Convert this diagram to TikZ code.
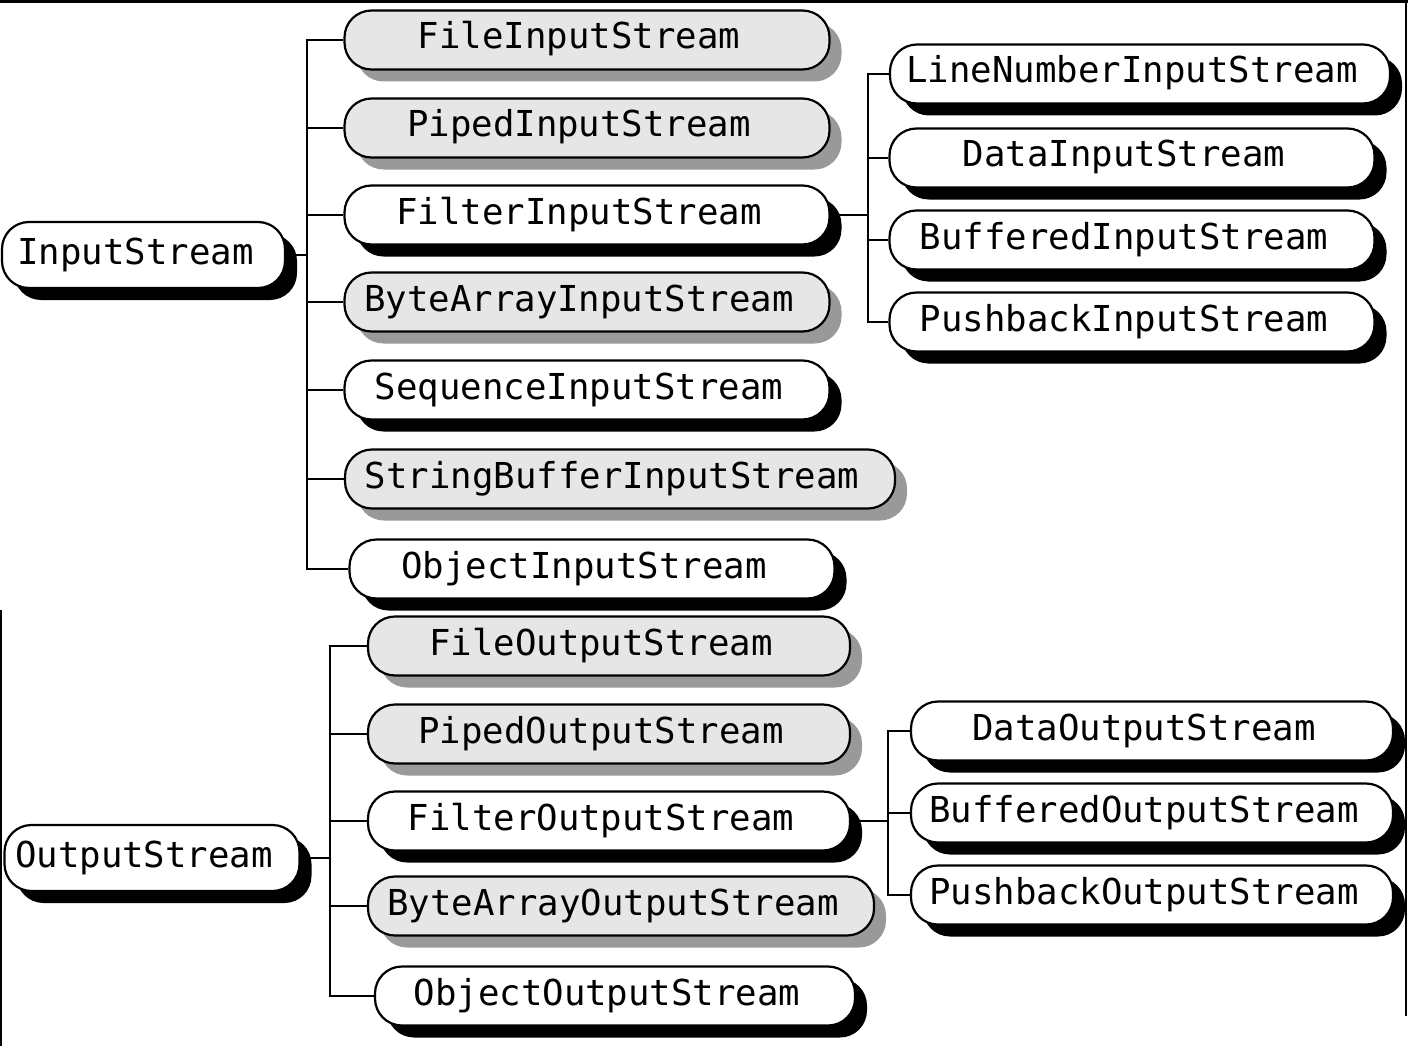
\documentclass[tikz,border=0pt]{standalone}
\usepackage{fontspec}
\setmonofont{DejaVu Sans Mono}
\usetikzlibrary{shadows}
\definecolor{boxgray}{HTML}{E6E6E6}
\definecolor{shadowgray}{HTML}{999999}
\tikzset{
  cls/.style={draw=black, line width=2.2pt, rounded corners=27pt, inner sep=0pt,
    minimum height=59pt, text height=26pt, text depth=8pt, align=center,
    font=\fontsize{35.7}{40}\selectfont\ttfamily,
    execute at end node={\hspace*{16pt}}},
  wbox/.style={cls, fill=white,
    drop shadow={shadow xshift=12pt, shadow yshift=-12pt, fill=black, opacity=1}},
  gbox/.style={cls, fill=boxgray,
    drop shadow={shadow xshift=12pt, shadow yshift=-12pt, fill=shadowgray, opacity=1}},
  rootbox/.style={wbox, minimum height=66pt},
  conn/.style={draw=black, line width=2pt}
}
\begin{document}
\begin{tikzpicture}[x=1pt,y=-1pt]
\useasboundingbox (0,0) rectangle (1408,1046);
\fill[white] (0,0) rectangle (1408,1046);
% frame remnants
\draw[line width=3pt] (0,1.5) -- (1408,1.5);
\draw[line width=2pt] (1406,0) -- (1406,1016);
\draw[line width=2.5pt] (1.2,610) -- (1.2,1046);

% ---- InputStream hierarchy ----
\node[rootbox, minimum width=283pt] (in) at (143.5,255) {InputStream};
\node[gbox, minimum width=485pt] (c1) at (587,40) {FileInputStream};
\node[gbox, minimum width=485pt] (c2) at (587,128) {PipedInputStream};
\node[wbox, minimum width=485pt] (c3) at (587,215) {FilterInputStream};
\node[gbox, minimum width=485pt] (c4) at (587,302) {ByteArrayInputStream};
\node[wbox, minimum width=485pt] (c5) at (587,390) {SequenceInputStream};
\node[gbox, minimum width=550pt] (c6) at (620,479) {StringBufferInputStream};
\node[wbox, minimum width=485pt] (c7) at (592,569) {ObjectInputStream};

\node[wbox, minimum width=500pt] (d1) at (1140,74) {LineNumberInputStream};
\node[wbox, minimum width=485pt] (d2) at (1132,158) {DataInputStream};
\node[wbox, minimum width=485pt] (d3) at (1132,240) {BufferedInputStream};
\node[wbox, minimum width=485pt] (d4) at (1132,322) {PushbackInputStream};

\coordinate (tA) at (307,255);
\coordinate (tB) at (868,215);
\draw[conn] (in.east) -- (tA);
\foreach \c in {c1,c2,c3,c4,c5,c6,c7} \draw[conn] (tA) |- (\c.west);
\draw[conn] (c3.east) -- (tB);
\foreach \c in {d1,d2,d3,d4} \draw[conn] (tB) |- (\c.west);

% ---- OutputStream hierarchy ----
\node[rootbox, minimum width=295pt] (out) at (152,858) {OutputStream};
\node[gbox, minimum width=482pt] (e1) at (609,646) {FileOutputStream};
\node[gbox, minimum width=482pt] (e2) at (609,734) {PipedOutputStream};
\node[wbox, minimum width=482pt] (e3) at (609,821) {FilterOutputStream};
\node[gbox, minimum width=506pt] (e4) at (621,906) {ByteArrayOutputStream};
\node[wbox, minimum width=480pt] (e5) at (615,996) {ObjectOutputStream};

\node[wbox, minimum width=482pt] (f1) at (1152,731) {DataOutputStream};
\node[wbox, minimum width=482pt] (f2) at (1152,813) {BufferedOutputStream};
\node[wbox, minimum width=482pt] (f3) at (1152,895) {PushbackOutputStream};

\coordinate (tC) at (330,858);
\coordinate (tD) at (888,821);
\draw[conn] (out.east) -- (tC);
\foreach \c in {e1,e2,e3,e4,e5} \draw[conn] (tC) |- (\c.west);
\draw[conn] (e3.east) -- (tD);
\foreach \c in {f1,f2,f3} \draw[conn] (tD) |- (\c.west);
\end{tikzpicture}
\end{document}
